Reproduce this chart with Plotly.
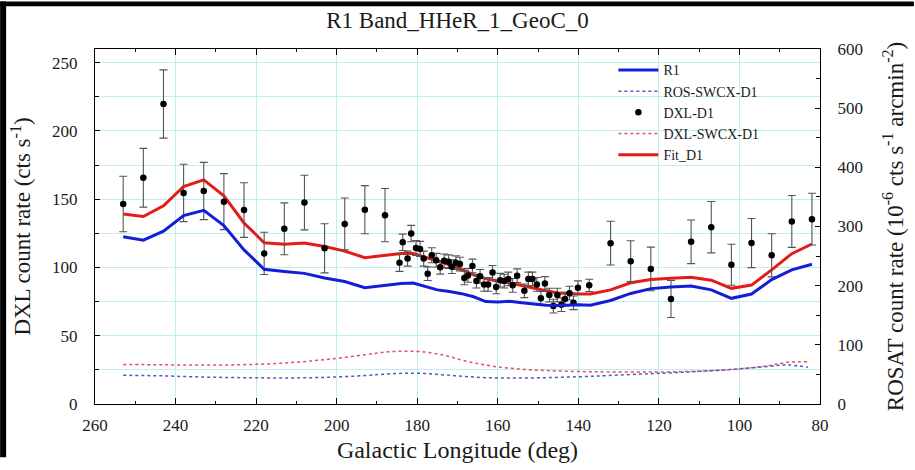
import plotly.graph_objects as go

# ---------------- data ----------------
# DXL-D1 measured points (Galactic longitude, count rate, 1-sigma error)
dxl_lon = [253, 248, 243, 238, 233, 228, 223, 218, 213, 208, 203, 198, 193, 188,
           184.4, 183.6, 182.4, 181.5, 180.3, 179.3, 178.4, 177.4, 176.4, 175.3,
           174.3, 173.3, 172.2, 171.4, 170.4, 169.4, 168.3, 167.4, 166.3, 165.3,
           164.4, 163.4, 162.4, 161.3, 160.4, 159.4, 158.4, 157.4, 156.3, 155.2,
           153.4, 152.4, 151.4, 150.3, 149.3, 148.3, 147.2, 146.2, 145.2, 144.2,
           143.3, 142.2, 141.2, 140.1, 137.3,
           132, 127, 122, 117, 112, 107, 102, 97, 92, 87, 82]
dxl_rate = [146.5, 165.7, 219.7, 154.6, 156.0, 148.2, 142.0, 110.3, 128.3, 147.5, 114.0, 131.9, 142.3, 138.3,
            103.5, 118.4, 106.5, 124.8, 114.3, 113.6, 106.5, 95.4, 108.9, 105.3,
            100.1, 104.9, 104.2, 100.6, 103.5, 102.5, 92.3, 94.2, 101.1, 90.0,
            93.5, 87.6, 87.6, 96.4, 85.7, 90.7, 90.0, 91.6, 86.9, 94.0,
            82.9, 91.6, 91.6, 87.6, 77.4, 88.3, 79.8, 71.7, 79.8, 72.7,
            76.9, 81.2, 74.1, 85.2, 86.9,
            117.8, 104.6, 98.9, 76.9, 118.8, 129.5, 102.0, 117.9, 108.9, 133.7, 135.4]
dxl_err = [20.3, 21.5, 25.0, 21.0, 21.0, 20.5, 20.0, 15.5, 19.0, 20.0, 18.0, 19.0, 17.6, 19.5,
           6.4, 6.0, 5.5, 6.0, 5.5, 5.5, 5.5, 5.0, 5.5, 5.0,
           5.0, 5.0, 5.0, 5.0, 5.0, 5.0, 5.0, 5.0, 5.0, 5.0,
           5.0, 5.0, 5.0, 5.0, 5.0, 5.0, 5.0, 5.0, 5.0, 5.0,
           5.0, 5.0, 5.0, 5.0, 5.0, 5.0, 5.0, 5.0, 5.0, 5.0,
           5.0, 5.0, 5.0, 5.0, 4.5,
           16.0, 15.0, 16.0, 13.5, 16.0, 18.8, 15.0, 18.0, 15.8, 19.0, 19.0]

# Model curves (Fit_D1 in DXL units, R1 in ROSAT units)
model_lon = [253, 248, 243, 238, 233, 228, 223, 218, 213, 208, 203, 198, 193, 188,
             184, 181, 178, 175, 172, 169, 166, 163, 160, 157, 154, 151, 148, 145,
             142, 140, 137, 132, 127, 122, 117, 112, 107, 102, 97, 92, 87, 82]
fit_d1 = [139.2, 137.3, 145.1, 159.3, 164.1, 152.5, 132.6, 118.1, 117.0, 117.9, 115.3, 112.0, 107.2, 108.6,
          110.2, 110.3, 107.2, 104.6, 102.0, 98.8, 94.6, 91.8, 89.8, 88.8, 86.8, 84.6, 82.9, 81.3,
          80.7, 80.5, 80.5, 83.6, 88.8, 91.1, 92.1, 92.8, 90.7, 84.7, 87.1, 98.2, 110.1, 117.2]
r1_rosat = [282.5, 276.9, 292.2, 318.5, 327.2, 301.6, 260.5, 227.8, 224.1, 220.8, 213.0, 207.0, 196.6, 200.5,
            203.8, 204.5, 198.5, 192.9, 190.2, 186.5, 181.2, 173.1, 172.2, 173.5, 171.2, 168.9, 167.1, 166.4,
            167.3, 167.8, 167.1, 174.9, 186.9, 195.0, 197.8, 199.4, 192.9, 178.6, 185.8, 210.2, 226.6, 236.1]

# SWCX foreground estimates
swcx_lon = [253, 243, 233, 223, 213, 203, 193, 188, 183, 178, 173, 168, 163, 158,
            153, 148, 143, 138, 133, 123, 113, 103, 93, 88, 83]
dxl_swcx = [29.0, 28.7, 28.5, 28.8, 30.0, 32.5, 36.0, 38.0, 38.7, 38.0, 35.5, 31.5, 28.5, 26.5,
            25.3, 24.5, 24.0, 23.7, 23.5, 23.4, 23.8, 25.0, 28.0, 30.5, 31.0]
ros_swcx = [48.5, 47.5, 45.5, 44.5, 44.0, 45.0, 48.0, 50.5, 52.0, 51.5, 49.0, 46.5, 44.5, 44.0,
            44.0, 44.5, 45.5, 46.5, 48.0, 51.0, 54.0, 58.0, 63.5, 66.0, 62.0]

x_ticks = [260, 240, 220, 200, 180, 160, 140, 120, 100, 80]
y_ticks = [0, 50, 100, 150, 200, 250]
y2_ticks = [0, 100, 200, 300, 400, 500, 600]

# ---------------- figure ----------------
W, H = 915, 470
ML, MR, MT, MB = 95, 94, 49, 55
GRID = "rgb(190,238,242)"
SERIF = "Liberation Serif"
INK = "#1a1a1a"
TICKFONT = dict(family=SERIF, size=17, color=INK)

fig = go.Figure()

fig.add_trace(go.Scatter(
    x=swcx_lon, y=dxl_swcx, mode="lines", name="DXL-SWCX-D1", legendrank=4,
    line=dict(color="rgb(225,80,95)", width=1.5, dash="dot", shape="spline"),
))
fig.add_trace(go.Scatter(
    x=model_lon, y=fit_d1, mode="lines", name="Fit_D1", legendrank=5,
    line=dict(color="rgb(228,28,24)", width=3),
))
fig.add_trace(go.Scatter(
    x=dxl_lon, y=dxl_rate, mode="markers", name="DXL-D1", legendrank=3,
    marker=dict(color="black", size=6.5),
    error_y=dict(type="data", array=dxl_err, visible=True, color="#555555",
                 thickness=1.1, width=4),
))
fig.add_trace(go.Scatter(
    x=swcx_lon, y=ros_swcx, mode="lines", name="ROS-SWCX-D1", legendrank=2,
    line=dict(color="rgb(80,90,190)", width=1.5, dash="dot", shape="spline"),
    yaxis="y2",
))
fig.add_trace(go.Scatter(
    x=model_lon, y=r1_rosat, mode="lines", name="R1", legendrank=1,
    line=dict(color="rgb(20,30,215)", width=3),
    yaxis="y2",
))

# black frame strips seen on the left and top edges of the picture
pw, ph = W - ML - MR, H - MT - MB
def px(xp):
    return (xp - ML) / pw
def py(yp):
    return (H - MB - yp) / ph
frame = [
    dict(x0=px(0), x1=px(6), y0=py(H), y1=py(0)),
    dict(x0=px(0), x1=px(W), y0=py(5), y1=py(0)),
]
shapes = [dict(type="rect", xref="paper", yref="paper", fillcolor="black",
               line=dict(width=0), layer="above", **f) for f in frame]

fig.update_layout(
    width=W, height=H,
    margin=dict(l=ML, r=MR, t=MT, b=MB),
    paper_bgcolor="white", plot_bgcolor="white",
    title=dict(text="R1 Band_HHeR_1_GeoC_0", x=0.5, xref="paper",
               y=1 - 20 / H, yref="container", yanchor="middle", xanchor="center",
               font=dict(family=SERIF, size=23, color=INK)),
    showlegend=True,
    legend=dict(x=0.715, y=0.985, xanchor="left", yanchor="top",
                bgcolor="rgba(0,0,0,0)", borderwidth=0,
                font=dict(family=SERIF, size=14, color=INK),
                tracegroupgap=0, itemwidth=40),
    xaxis=dict(range=[260, 80], tickvals=x_ticks, ticks="inside", ticklen=6,
               tickwidth=1.2, tickcolor="black",
               minor=dict(dtick=10, ticks="inside", ticklen=3, tickcolor="black",
                          showgrid=False),
               showline=True, linecolor="black", linewidth=1.3, mirror="ticks",
               showgrid=True, gridcolor=GRID, gridwidth=1, zeroline=False,
               tickfont=TICKFONT, ticklabelstandoff=5,
               title=dict(text="Galactic Longitude (deg)", standoff=7,
                          font=dict(family=SERIF, size=24, color=INK))),
    yaxis=dict(range=[0, 260], tickvals=y_ticks, ticks="inside", ticklen=5,
               tickwidth=1.2, tickcolor="black",
               minor=dict(dtick=25, ticks="inside", ticklen=4, tickcolor="black",
                          showgrid=True, gridcolor=GRID, gridwidth=1),
               showline=True, linecolor="black", linewidth=1.3, mirror=False,
               showgrid=True, gridcolor=GRID, gridwidth=1, zeroline=False,
               tickfont=TICKFONT, ticklabelstandoff=13,
               title=dict(text="DXL count rate (cts s<sup>-1</sup>)", standoff=14,
                          font=dict(family=SERIF, size=23, color=INK))),
    yaxis2=dict(range=[0, 600], tickvals=y2_ticks, overlaying="y", side="right",
                ticks="inside", ticklen=5, tickwidth=1.2, tickcolor="black",
                minor=dict(dtick=50, ticks="inside", ticklen=4, tickcolor="black",
                           showgrid=False),
                showline=True, linecolor="black", linewidth=1.3,
                showgrid=False, zeroline=False,
                tickfont=TICKFONT, ticklabelstandoff=13,
                title=dict(text="ROSAT count rate (10<sup>-6</sup> cts s<sup>-1</sup> arcmin<sup>-2</sup>)",
                           standoff=24,
                           font=dict(family=SERIF, size=23, color=INK))),
    shapes=shapes,
)

fig.write_html("out.html")
